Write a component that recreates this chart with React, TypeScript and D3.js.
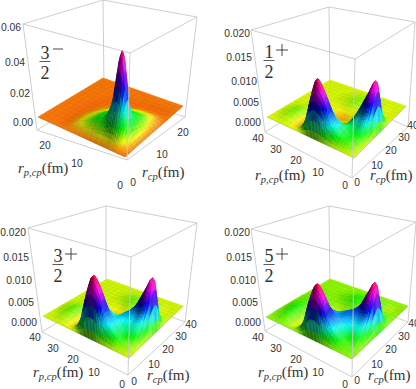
import React from "react";
import * as d3 from "d3";

// Values are in units of 1e-4. Rows: r_p,cp index; columns: r_cp index.
const grid32m = [
[0,0,0,0,0,0,0,0,0,0,0,0,0,0,0,0,0],
[0,15,45,66,60,54,46,34,25,17,8,1,-2,-2,-1,0,0],
[0,45,150,240,150,110,95,73,53,36,19,4,-3,-3,-1,0,0],
[0,66,240,530,240,120,100,75,55,38,20,4,-3,-3,-1,0,0],
[0,60,150,240,150,110,95,73,53,36,19,4,-3,-3,-1,0,0],
[0,56,110,120,110,100,85,65,46,32,15,3,-3,-2,-1,0,0],
[0,48,95,100,95,85,70,50,40,24,10,0,-3,-2,-1,0,0],
[0,39,73,75,73,65,50,40,30,16,6,-1,-3,-1,0,0,0],
[0,28,53,55,53,46,40,30,18,8,2,-2,-3,-1,0,0,0],
[0,19,36,38,36,32,24,16,8,3,-1,-3,-2,-1,0,0,0],
[0,10,19,20,19,15,10,6,2,-1,-3,-3,-1,0,0,0,0],
[0,2,4,4,4,3,0,-1,-2,-3,-3,-2,-1,0,0,0,0],
[0,-2,-3,-3,-3,-3,-3,-3,-3,-3,-2,-1,0,0,0,0,0],
[0,-1,-2,-2,-2,-2,-2,-2,-2,-1,-1,0,0,0,0,0,0],
[0,0,-1,-1,-1,-1,-1,-1,0,0,0,0,0,0,0,0,0],
[0,0,0,0,0,0,0,0,0,0,0,0,0,0,0,0,0],
[0,0,0,0,0,0,0,0,0,0,0,0,0,0,0,0,0],
];
const grid12p = [
[0,0,0,0,0,0,0,0,0,0,0,0,0,0,0,0,0],
[0,5,9,14,26,46,80,102,62,24,5,0,0,-1,0,0,0],
[0,9,13,16,24,40,68,78,52,20,4,0,0,-1,0,0,0],
[0,14,18,18,22,30,42,45,30,12,2,0,0,1,1,0,0],
[0,24,34,24,18,14,17,18,12,6,1,1,1,2,2,1,0],
[0,40,52,32,15,5,0,1,2,1,1,2,3,3,2,1,0],
[0,62,90,52,23,6,-4,-5,-3,-1,1,3,4,4,3,1,0],
[0,72,115,60,25,6,-5,-7,-5,-1,2,4,5,4,3,1,0],
[0,54,78,46,20,4,-5,-6,-4,-1,1,3,4,3,2,1,0],
[0,19,26,16,7,0,-4,-5,-2,-1,0,2,2,2,1,0,0],
[0,2,2,1,-2,-3,-4,-3,-1,-1,0,1,1,1,0,0,0],
[0,-4,-6,-5,-4,-3,-1,-1,0,0,0,0,0,0,0,0,0],
[0,-1,-1,0,1,1,0,0,0,0,0,0,0,0,0,0,0],
[0,1,3,5,6,4,2,1,0,0,0,0,0,0,0,0,0],
[0,1,3,4,4,3,1,0,0,0,0,0,0,0,0,0,0],
[0,0,1,2,2,1,1,0,0,0,0,0,0,0,0,0,0],
[0,0,0,0,0,0,0,0,0,0,0,0,0,0,0,0,0],
];
const grid32p = [
[0,0,0,0,0,0,0,0,0,0,0,0,0,0,0,0,0],
[0,4,8,20,32,50,84,108,68,26,6,1,0,-1,0,0,0],
[0,8,14,24,32,46,74,86,58,22,6,1,0,-1,-1,0,0],
[0,18,22,28,36,44,50,50,34,16,4,1,1,1,1,0,0],
[0,28,34,36,36,36,32,26,18,9,3,2,3,3,2,1,0],
[0,44,52,38,30,24,18,11,6,3,3,4,5,4,3,1,0],
[0,76,98,58,34,19,8,2,-2,0,2,5,6,5,3,1,0],
[0,84,120,66,32,14,2,-3,-5,-1,3,6,7,5,3,1,0],
[0,62,84,52,25,8,-2,-5,-5,-2,1,4,5,4,2,1,0],
[0,22,30,19,9,1,-4,-5,-3,-1,0,2,3,2,1,0,0],
[0,3,3,1,-2,-4,-4,-3,-1,0,0,1,1,1,0,0,0],
[0,-4,-5,-5,-4,-2,-1,0,0,0,0,0,0,0,0,0,0],
[0,-1,0,2,3,3,2,1,0,0,0,0,0,0,0,0,0],
[0,2,4,7,8,6,3,1,0,0,0,0,0,0,0,0,0],
[0,1,3,5,5,4,2,1,0,0,0,0,0,0,0,0,0],
[0,0,1,2,3,2,1,0,0,0,0,0,0,0,0,0,0],
[0,0,0,0,0,0,0,0,0,0,0,0,0,0,0,0,0],
];
const grid52p = [
[0,0,0,0,0,0,0,0,0,0,0,0,0,0,0,0,0],
[0,3,6,16,28,44,76,98,62,24,8,2,0,-2,-2,-1,0],
[0,6,10,22,30,44,68,80,52,20,7,2,0,-2,-2,-1,0],
[0,14,20,28,36,44,48,48,32,16,4,1,0,0,1,0,0],
[0,26,32,36,40,40,36,28,18,9,3,2,3,4,3,1,0],
[0,42,50,42,36,34,26,18,9,4,2,4,7,7,4,2,0],
[0,68,86,54,38,28,16,7,1,0,3,7,9,8,5,2,0],
[0,76,103,58,36,20,8,-1,-5,-2,3,8,10,8,5,2,0],
[0,56,72,48,30,14,0,-6,-7,-3,2,6,8,6,4,1,0],
[0,19,26,18,9,0,-6,-7,-5,-2,1,4,5,4,2,1,0],
[0,2,2,-1,-4,-7,-7,-5,-2,0,1,2,3,2,1,0,0],
[0,-5,-7,-7,-6,-5,-3,-1,0,1,1,1,1,1,0,0,0],
[0,-2,-2,0,2,2,2,2,1,1,1,1,1,0,0,0,0],
[0,3,6,9,10,8,6,4,3,2,2,1,1,0,0,0,0],
[0,3,6,8,9,8,6,5,4,3,2,1,1,0,0,0,0],
[0,1,3,4,5,5,4,3,3,2,1,1,0,0,0,0,0],
[0,0,1,1,1,1,1,1,1,0,0,0,0,0,0,0,0],
];

const zTicksA = ["0.00", "0.02", "0.04", "0.06"];
const zTicksB = ["0.000", "0.005", "0.010", "0.015", "0.020"];
const rTicksA = ["0", "10", "20"];
const rTicksB = ["0", "10", "20", "30", "40"];
const hueStopsA = [0, 0.18, 0.36, 0.55, 0.82, 1];
const hueStopsB = [0, 0.12, 0.27, 0.5, 0.75, 1];

type Pt = [number, number];
type Quad = { f: Pt; r: Pt; b: Pt; l: Pt };

function homography(q: Quad) {
  const [x0, y0] = q.f, [x1, y1] = q.r, [x2, y2] = q.b, [x3, y3] = q.l;
  const dx1 = x1 - x2, dx2 = x3 - x2, sx = x0 - x1 + x2 - x3;
  const dy1 = y1 - y2, dy2 = y3 - y2, sy = y0 - y1 + y2 - y3;
  const det = dx1 * dy2 - dx2 * dy1;
  const g = (sx * dy2 - dx2 * sy) / det;
  const h = (dx1 * sy - sx * dy1) / det;
  const a = x1 - x0 + g * x1, b = x3 - x0 + h * x3;
  const d = y1 - y0 + g * y1, e = y3 - y0 + h * y3;
  return (u: number, v: number): Pt => {
    const w = g * u + h * v + 1;
    return [(a * u + b * v + x0) / w, (d * u + e * v + y0) / w];
  };
}

// value at a fractional grid position, drawn smooth between the read nodes
function sampler(grid: number[][]) {
  const n = grid.length - 1;
  const cr = (a: number, b: number, c: number, d: number, t: number) =>
    b + 0.5 * t * (c - a + t * (2 * a - 5 * b + 4 * c - d + t * (3 * (b - c) + d - a)));
  const at = (j: number, i: number) => grid[Math.max(0, Math.min(n, j))][Math.max(0, Math.min(n, i))];
  return (x: number, y: number) => {
    const cx = Math.max(0, Math.min(n, x)), cy = Math.max(0, Math.min(n, y));
    const i = Math.min(n - 1, Math.floor(cx)), j = Math.min(n - 1, Math.floor(cy));
    const tx = cx - i, ty = cy - j;
    const row = (jj: number) => cr(at(jj, i - 1), at(jj, i), at(jj, i + 1), at(jj, i + 2), tx);
    return cr(row(j - 1), row(j), row(j + 1), row(j + 2), ty);
  };
}

type PanelCfg = {
  grid: number[][];
  zTop: number;
  hue0: number;
  maxV: number;
  stops: number[];
  plane: Quad;
  top: Quad;
  floor: Quad;
  zTicks: string[];
  zPos: Pt[];
  rTicks: string[];
  xPos: Pt[];
  yPos: Pt[];
  frac: { num: string; sign: string; x: number; y: number };
  xLabel: Pt;
  yLabel: Pt;
};

const SUB = 4;

function Panel({ cfg }: { cfg: PanelCfg }) {
  const { grid, plane, top, floor } = cfg;
  const H0 = homography(plane);
  const H1 = homography(top);
  const n = grid.length - 1;
  const zs = d3.scaleLinear().domain([0, cfg.zTop]).range([0, 1]);
  const hueScale = d3
    .scaleLinear()
    .domain(cfg.stops.map((t) => t * cfg.maxV))
    .range([cfg.hue0, 120, 180, 240, 300, 345]);
  const uScale = d3.scaleLinear().domain([0, n]).range([0, 1]);
  const f = sampler(grid);
  const proj = (x: number, y: number, val: number): Pt => {
    const u = uScale(x), v = uScale(y);
    const a = H0(u, v), b = H1(u, v);
    const t = zs(val * 1e-4);
    return [a[0] + (b[0] - a[0]) * t, a[1] + (b[1] - a[1]) * t];
  };
  const polys: React.ReactNode[] = [];
  const step = 1 / SUB;
  const m = n * SUB;
  const pathOf = (p: Pt[]) => "M" + p.map((q) => q[0].toFixed(2) + "," + q[1].toFixed(2)).join("L");
  const k = (0.5 * n * 1e-4) / cfg.zTop;
  const h = 0.6;
  for (let a = m - 1; a >= 0; a--) {
    for (let c = m - 1; c >= 0; c--) {
      const y0 = a * step, y1 = (a + 1) * step, x0 = c * step, x1 = (c + 1) * step;
      const z00 = f(x0, y0), z10 = f(x1, y0), z01 = f(x0, y1), z11 = f(x1, y1);
      const corners: Pt[] = [proj(x0, y0, z00), proj(x1, y0, z10), proj(x1, y1, z11), proj(x0, y1, z01)];
      const mean = (z00 + z10 + z01 + z11) / 4;
      const cx = (x0 + x1) / 2, cy = (y0 + y1) / 2;
      const sx = ((f(cx + h, cy) - f(cx - h, cy)) / (2 * h)) * k;
      const sy = ((f(cx, cy + h) - f(cx, cy - h)) / (2 * h)) * k;
      const len = Math.hypot(sx, sy, 1);
      const dot = (0.3 * -sx + -0.7 * -sy + 0.65) / len;
      const shade = Math.min(1.1, 0.42 + 0.88 * Math.max(0, dot));
      const hue = hueScale(mean);
      const col =
        shade <= 1
          ? d3.hsl(hue, 1, 0.48 * shade).formatHex()
          : d3.interpolateRgb(d3.hsl(hue, 1, 0.48).formatHex(), "#ffffff")((shade - 1) * 1.5);
      polys.push(<path key={a + "-" + c} d={pathOf(corners) + "Z"} fill={col} stroke={col} strokeWidth={0.4} />);
      if (c % SUB === 0)
        polys.push(
          <path key={"mx" + a + "-" + c} d={pathOf([corners[0], corners[3]])} stroke="#000" strokeOpacity={0.24} strokeWidth={0.5} fill="none" />
        );
      if (a % SUB === 0)
        polys.push(
          <path key={"my" + a + "-" + c} d={pathOf([corners[0], corners[1]])} stroke="#000" strokeOpacity={0.24} strokeWidth={0.5} fill="none" />
        );
    }
  }
  const boxColor = "#c8c8c8";
  const seg = (p: Pt, q: Pt, key: string) => (
    <line key={key} x1={p[0]} y1={p[1]} x2={q[0]} y2={q[1]} stroke={boxColor} strokeWidth={0.9} />
  );
  const labelStyle = { fontFamily: "'Liberation Sans', Arial, sans-serif", fontSize: 10.3, fill: "#333" };
  const mathStyle = { fontFamily: "'Liberation Serif', serif", fontSize: 15, fill: "#333" };
  const fr = cfg.frac;
  return (
    <g>
      {seg(floor.l, top.l, "v1")}
      {seg(floor.b, top.b, "v2")}
      {seg(floor.r, top.r, "v3")}
      {seg(top.l, top.b, "t1")}
      {seg(top.b, top.r, "t2")}
      {seg(floor.l, floor.b, "b1")}
      {seg(floor.b, floor.r, "b2")}
      {polys}
      {seg(floor.f, top.f, "v4")}
      {seg(top.f, top.l, "t3")}
      {seg(top.f, top.r, "t4")}
      {seg(floor.f, floor.l, "b3")}
      {seg(floor.f, floor.r, "b4")}
      {cfg.zTicks.map((t, i) => (
        <text key={"z" + i} x={cfg.zPos[i][0]} y={cfg.zPos[i][1] + 3.6} textAnchor="end" {...labelStyle}>{t}</text>
      ))}
      {cfg.rTicks.map((t, i) => (
        <text key={"x" + i} x={cfg.xPos[i][0]} y={cfg.xPos[i][1] + 3.6} textAnchor="middle" {...labelStyle}>{t}</text>
      ))}
      {cfg.rTicks.map((t, i) => (
        <text key={"y" + i} x={cfg.yPos[i][0]} y={cfg.yPos[i][1] + 3.6} textAnchor="middle" {...labelStyle}>{t}</text>
      ))}
      <text x={cfg.xLabel[0]} y={cfg.xLabel[1]} {...mathStyle}>
        <tspan fontStyle="italic">r</tspan>
        <tspan fontStyle="italic" fontSize={10.5} dy={2.5}>cp</tspan>
        <tspan dy={-2.5}>(fm)</tspan>
      </text>
      <text x={cfg.yLabel[0]} y={cfg.yLabel[1]} {...mathStyle}>
        <tspan fontStyle="italic">r</tspan>
        <tspan fontStyle="italic" fontSize={10.5} dy={2.5}>p,cp</tspan>
        <tspan dy={-2.5}>(fm)</tspan>
      </text>
      <g fill="#333" style={{ fontFamily: "'Liberation Serif', serif" }}>
        <text x={fr.x} y={fr.y} fontSize={18} textAnchor="middle">{fr.num}</text>
        <line x1={fr.x - 5.5} x2={fr.x + 5.5} y1={fr.y + 2.5} y2={fr.y + 2.5} stroke="#333" strokeWidth={0.8} />
        <text x={fr.x} y={fr.y + 19.5} fontSize={18} textAnchor="middle">2</text>
        {fr.sign === "-" ? (
          <line x1={fr.x + 8} x2={fr.x + 18} y1={fr.y - 10} y2={fr.y - 10} stroke="#333" strokeWidth={0.9} />
        ) : (
          <g stroke="#333" strokeWidth={0.9}>
            <line x1={fr.x + 7} x2={fr.x + 19} y1={fr.y - 8} y2={fr.y - 8} />
            <line x1={fr.x + 13} x2={fr.x + 13} y1={fr.y - 14} y2={fr.y - 2} />
          </g>
        )}
      </g>
    </g>
  );
}

const panels: PanelCfg[] = [
  {
    grid: grid32m, zTop: 0.06, hue0: 28, maxV: 530, stops: hueStopsA,
    plane: { f: [125, 157], r: [183, 106], b: [103, 78], l: [38, 117] },
    top: { f: [130, 53], r: [197, 17], b: [103, 0], l: [23, 24] },
    floor: { f: [127, 160], r: [185, 117], b: [104, 88], l: [37, 130] },
    zTicks: zTicksA,
    zPos: [[33, 122], [30, 93], [25, 62], [21, 27]],
    rTicks: rTicksA,
    xPos: [[133, 182], [162, 154], [183, 132]],
    yPos: [[120, 185], [77, 163], [45, 145]],
    frac: { num: "3", sign: "-", x: 45, y: 59 },
    xLabel: [142, 177], yLabel: [18, 173],
  },
  {
    grid: grid12p, zTop: 0.02, hue0: 68, maxV: 115, stops: hueStopsB,
    plane: { f: [354, 158], r: [406, 106], b: [330, 80], l: [267, 117] },
    top: { f: [355, 59], r: [415, 22], b: [329, 7], l: [251, 30] },
    floor: { f: [352, 178], r: [408, 127], b: [330, 92], l: [265, 132] },
    zTicks: zTicksB,
    zPos: [[261, 122], [259, 102], [257, 81], [252, 57], [250, 33]],
    rTicks: rTicksB,
    xPos: [[357, 182], [377, 165], [391, 150], [404, 137], [413, 125]],
    yPos: [[345, 185], [318, 172], [296, 160], [276, 149], [258, 138]],
    frac: { num: "1", sign: "+", x: 269, y: 58 },
    xLabel: [370, 180], yLabel: [255, 180],
  },
  {
    grid: grid32p, zTop: 0.02, hue0: 70, maxV: 120, stops: hueStopsB,
    plane: { f: [129, 358], r: [183, 306], b: [107, 279], l: [43, 316] },
    top: { f: [131, 257], r: [197, 223], b: [106, 206], l: [28, 228] },
    floor: { f: [128, 375], r: [185, 322], b: [106, 292], l: [42, 332] },
    zTicks: zTicksB,
    zPos: [[37, 322], [34, 302], [32, 280], [29, 257], [26, 232]],
    rTicks: rTicksB,
    xPos: [[134, 381], [154, 364], [168, 349], [181, 336], [191, 324]],
    yPos: [[122, 384], [94, 372], [73, 359], [53, 348], [35, 337]],
    frac: { num: "3", sign: "+", x: 58, y: 262 },
    xLabel: [147, 380], yLabel: [33, 377],
  },
  {
    grid: grid52p, zTop: 0.02, hue0: 86, maxV: 103, stops: hueStopsB,
    plane: { f: [352, 359], r: [408, 306], b: [330, 279], l: [266, 317] },
    top: { f: [354, 257], r: [416, 222], b: [329, 206], l: [251, 229] },
    floor: { f: [352, 377], r: [408, 322], b: [330, 292], l: [265, 331] },
    zTicks: zTicksB,
    zPos: [[261, 322], [258, 302], [256, 280], [252, 257], [250, 232]],
    rTicks: rTicksB,
    xPos: [[357, 380], [377, 364], [391, 349], [404, 336], [414, 323]],
    yPos: [[345, 384], [318, 372], [296, 359], [276, 348], [258, 337]],
    frac: { num: "5", sign: "+", x: 269, y: 262 },
    xLabel: [368, 380], yLabel: [258, 377],
  },
];

export default function App() {
  return (
    <svg width={416} height={389} viewBox="0 0 416 389" style={{ position: "fixed", left: 0, top: 0, background: "#fff" }}>
      {panels.map((p, i) => (
        <Panel key={i} cfg={p} />
      ))}
    </svg>
  );
}
